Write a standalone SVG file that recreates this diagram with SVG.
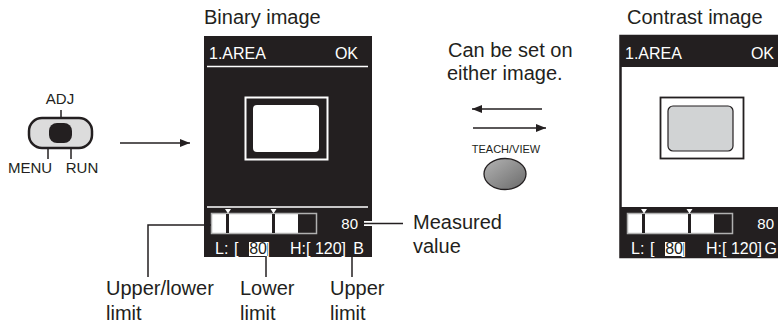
<svg xmlns="http://www.w3.org/2000/svg" width="778" height="325" viewBox="0 0 778 325">
<defs>
<style>
text{font-family:"Liberation Sans",Arial,sans-serif;fill:#231f20}
.lbl{font-size:20px}
.scr{font-size:16px;fill:#fff}
.ln{stroke:#231f20;stroke-width:1.5;fill:none}
.wl{stroke:#fff;stroke-width:1.5;fill:none}
</style>
<marker id="ah" viewBox="0 0 10 8" refX="10" refY="4" markerWidth="10" markerHeight="8" markerUnits="userSpaceOnUse" orient="auto"><path d="M0,0L10,4L0,8z" fill="#231f20"/></marker>
<linearGradient id="gb" x1="0" y1="0" x2="1" y2="1"><stop offset="0" stop-color="#b4b4b4"/><stop offset="1" stop-color="#6a6a6a"/></linearGradient>
<g id="bar">
<rect x="212" y="214" width="86" height="19" fill="#fff"/>
<rect x="298" y="214" width="18" height="19" fill="#231f20"/>
<rect x="211.5" y="213.5" width="105" height="20" fill="none" stroke="#b0b0b0" stroke-width="1.5"/>
<rect x="226" y="214" width="3" height="19" fill="#231f20"/>
<rect x="272" y="214" width="3" height="19" fill="#231f20"/>
<path d="M225,209L231,209L228,213.5z M270.5,209L276.5,209L273.5,213.5z" fill="#fff"/>
<text class="scr" x="358" y="229" text-anchor="end" style="font-size:15px">80</text>
<text class="scr" x="215" y="254">L:</text>
<text class="scr" x="234" y="254">[</text>
<rect x="249" y="242" width="18" height="14" fill="#fff"/>
<text class="scr" x="249.2" y="254" style="fill:#231f20">80</text>
<text class="scr" x="265.5" y="254">]</text>
<text class="scr" x="290" y="254">H:[ 120]</text>
</g>
</defs>

<g id="title-binary"><text class="lbl" x="204" y="24">Binary image</text></g>
<g id="title-contrast"><text class="lbl" x="627" y="24">Contrast image</text></g>

<g id="switch-adj">
<rect x="29" y="118" width="63" height="30" rx="13" fill="#dcdcdc" stroke="#231f20" stroke-width="2.5"/>
<rect x="49" y="123" width="23" height="20" rx="8" fill="#231f20"/>
<text x="60" y="104" font-size="15" text-anchor="middle">ADJ</text>
<text x="30" y="173" font-size="15" text-anchor="middle">MENU</text>
<text x="82" y="173" font-size="15" text-anchor="middle">RUN</text>
</g>

<g id="screen-binary">
<rect x="204" y="36" width="168" height="221" fill="#231f20"/>
<text class="scr" x="209" y="59">1.AREA</text>
<text class="scr" x="358" y="59" text-anchor="end">OK</text>
<line class="wl" x1="207" y1="66.5" x2="368" y2="66.5"/>
<rect x="245.5" y="97.5" width="82" height="62" fill="none" stroke="#fff" stroke-width="2"/>
<rect x="253" y="105" width="66" height="47" rx="4" fill="#fff"/>
<line class="wl" x1="207" y1="207" x2="368" y2="207"/>
<use href="#bar"/>
<text class="scr" x="364" y="254" text-anchor="end">B</text>
</g>

<g id="screen-contrast">
<rect x="620.5" y="36" width="168" height="221" fill="#fff" stroke="#231f20" stroke-width="2.5"/>
<rect x="620" y="36" width="168" height="31" fill="#231f20"/>
<text class="scr" x="625" y="59">1.AREA</text>
<text class="scr" x="774" y="59" text-anchor="end">OK</text>
<rect x="660.5" y="97.5" width="83" height="61" fill="#fff" stroke="#231f20" stroke-width="1.8"/>
<rect x="668" y="106" width="65" height="45" rx="5" fill="#d1d3d4" stroke="#231f20" stroke-width="1.2"/>
<rect x="620" y="207" width="168" height="50" fill="#231f20"/>
<use href="#bar" transform="translate(416,0)"/>
<text class="scr" x="777" y="254" text-anchor="end">G</text>
</g>

<g id="note">
<text class="lbl" x="448" y="57">Can be set on</text>
<text class="lbl" x="447" y="80">either image.</text>
</g>

<g id="button-teach">
<text x="506" y="153" font-size="11" text-anchor="middle">TEACH/VIEW</text>
<ellipse cx="505" cy="174" rx="21" ry="15.5" fill="url(#gb)" stroke="#231f20" stroke-width="1.3"/>
</g>

<g id="labels">
<text class="lbl" x="413" y="229">Measured</text>
<text class="lbl" x="413" y="253">value</text>
<text class="lbl" x="106" y="295">Upper/lower</text>
<text class="lbl" x="106" y="320">limit</text>
<text class="lbl" x="240" y="295">Lower</text>
<text class="lbl" x="240" y="320">limit</text>
<text class="lbl" x="330" y="295">Upper</text>
<text class="lbl" x="330" y="320">limit</text>
</g>

<g id="connectors">
<line class="ln" x1="120" y1="143" x2="190" y2="143" marker-end="url(#ah)"/>
<line class="ln" x1="542" y1="109" x2="472" y2="109" marker-end="url(#ah)"/>
<line class="ln" x1="473" y1="128" x2="546" y2="128" marker-end="url(#ah)"/>
<line class="ln" x1="61" y1="110" x2="61" y2="118"/>
<line class="ln" x1="48" y1="148" x2="48" y2="159"/>
<line class="ln" x1="71" y1="148" x2="71" y2="159"/>
<polyline class="ln" points="148,277 148,225 211,225"/>
<line class="ln" x1="266" y1="256" x2="266" y2="277"/>
<line class="ln" x1="352" y1="256" x2="352" y2="277"/>
<rect x="364" y="221" width="8" height="5" fill="#fff"/>
<line class="ln" x1="364" y1="223.5" x2="403" y2="223.5"/>
</g>
</svg>
